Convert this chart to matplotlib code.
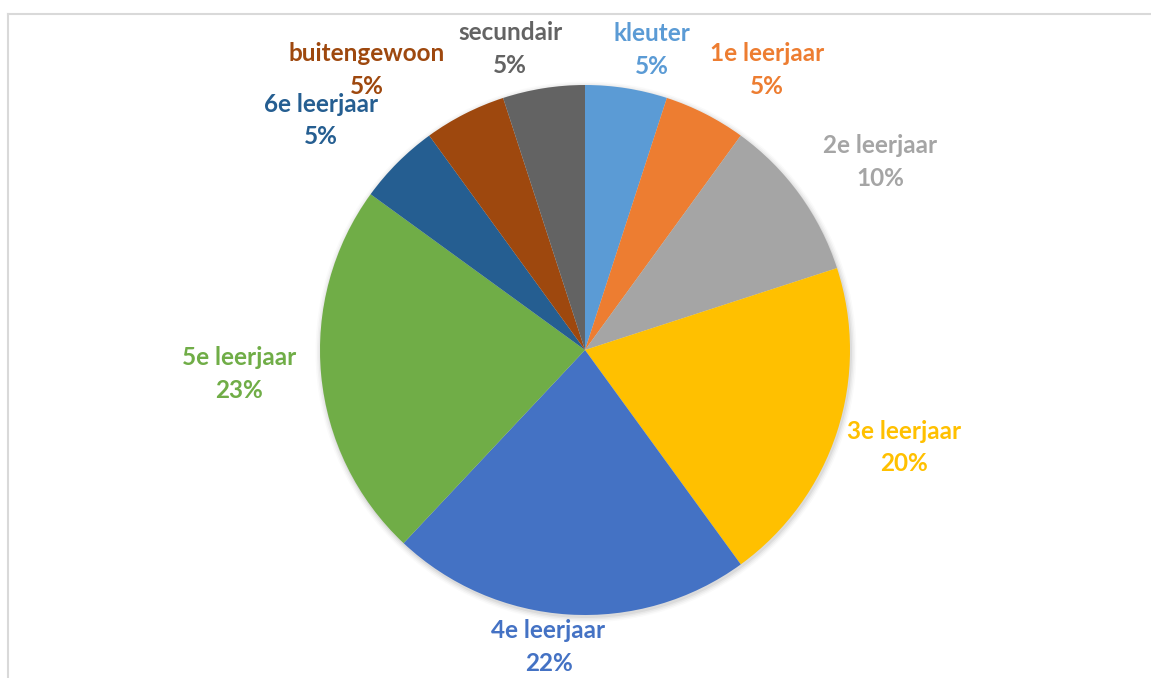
import numpy as np
import matplotlib
matplotlib.use('Agg')
import matplotlib.pyplot as plt

categories = ['kleuter', '1e leerjaar', '2e leerjaar', '3e leerjaar', '4e leerjaar',
              '5e leerjaar', '6e leerjaar', 'buitengewoon', 'secundair']
shares = [5, 5, 10, 20, 22, 23, 5, 5, 5]
colors = ['#5B9BD5', '#ED7D31', '#A5A5A5', '#FFC000', '#4472C4',
          '#70AD47', '#255E91', '#9E480E', '#636363']

# label layout (radius factor, angle nudge in degrees, clockwise positive)
label_r = [1.16, 1.26, 1.32, 1.26, 1.13, 1.31, 1.32, 1.34, 1.17]
label_nudge = [3.6, 6, 3.5, -1, 3.4, 1.4, -4, -11, -5]

W, H = 1151, 678
fig = plt.figure(figsize=(W / 100, H / 100), dpi=100)
ax = fig.add_axes([0, 0, 1, 1])

cx, cy, r = 585, H - 350, 265

# soft shadow behind the pie
for i, a in enumerate([0.05, 0.04, 0.03, 0.02]):
    ax.add_patch(plt.Circle((cx + 1, cy - 2), r + 1 + i * 1.5, color='black', alpha=a, lw=0, zorder=0))

wedges, _ = ax.pie(shares, colors=colors, startangle=90, counterclock=False,
                   center=(cx, cy), radius=r, frame=True,
                   wedgeprops=dict(linewidth=0))
ax.set_xlim(0, W)
ax.set_ylim(0, H)
ax.set_aspect('auto')
ax.axis('off')

for w, name, val, col, rf, nd in zip(wedges, categories, shares, colors, label_r, label_nudge):
    mid = np.deg2rad((w.theta1 + w.theta2) / 2 - nd)
    x = cx + rf * r * np.cos(mid)
    y = cy + rf * r * np.sin(mid)
    ax.text(x, y, f'{name}\n{val}%', color=col, ha='center', va='center',
            fontsize=17.5, fontweight='bold', family=['Lato', 'DejaVu Sans'],
            linespacing=1.5)

# chart border (top and left visible)
ax.plot([8.5, W], [H - 13.5, H - 13.5], color='#D9D9D9', lw=1.5, clip_on=False)
ax.plot([8.5, 8.5], [0, H - 13.5], color='#D9D9D9', lw=1.5, clip_on=False)

fig.savefig('out.png', dpi=100, facecolor='white')
